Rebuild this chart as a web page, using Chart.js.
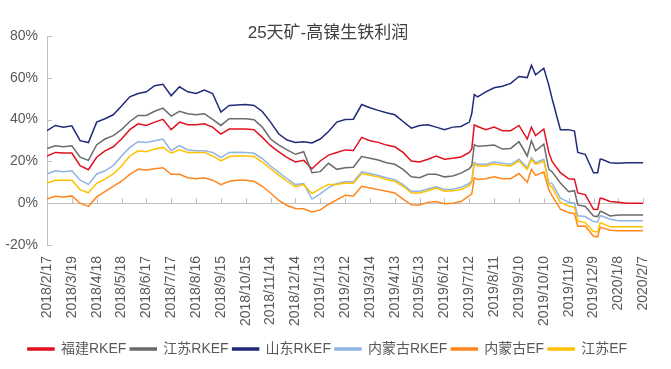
<!DOCTYPE html>
<html lang="zh">
<head>
    <meta charset="UTF-8">
    <title>25天矿-高镍生铁利润</title>
    <script src="https://cdn.jsdelivr.net/npm/chart.js"></script>
    <style>
        body { margin: 0; background: #fff; }
        #wrap { width: 671px; height: 369px; }
    </style>
</head>
<body>
    <div id="wrap"><canvas id="myChart" width="671" height="369"></canvas></div>

    <script>
        // дни от 2018/2/17
        const days = [0,10,20,30,40,50,60,70,80,90,100,110,120,130,140,150,160,170,180,190,200,210,220,230,240,250,260,270,280,290,300,310,320,330,340,350,360,370,380,390,400,410,420,430,440,450,460,470,480,490,500,510,513,516,520,530,540,550,560,570,580,585,590,600,606,610,620,630,637,641,650,660,665,668,670,680,690,700,710,720]

        const tickLabels = ['2018/2/17','2018/3/19','2018/4/18','2018/5/18','2018/6/17','2018/7/17','2018/8/16','2018/9/15','2018/10/15','2018/11/14','2018/12/14','2019/1/13','2019/2/12','2019/3/14','2019/4/13','2019/5/13','2019/6/12','2019/7/12','2019/8/11','2019/9/10','2019/10/10','2019/11/9','2019/12/9','2020/1/8','2020/2/7']

        const fujianRKEF = [22.5,24.3,24,24,18,16,22,25,27,30.7,35.2,38,37.2,38.8,40.1,35.2,38.8,37.5,37.5,38,36.4,33.1,35.5,35.5,35.5,35.2,31.5,27.5,24.6,21.8,19.7,20.5,16.5,20.2,23,24.3,25.5,25.2,31.5,29.9,29.1,27.8,27,24.3,20.2,19.7,21,22.6,21,21.5,22.1,24.3,26,37.5,36.7,35.2,36.4,34.7,34.7,37.2,30.7,36.4,32.3,35.5,24.3,20,14.6,11.7,11.5,4.9,4.1,-2.9,-3,2.4,2.4,0.8,0.4,0,0,0]
        const jiangsuRKEF = [26.2,27.5,27,27.5,22,20.5,28,30.7,32.3,35.2,39.1,42,42,44,45.5,41.7,44,42.8,42.3,42.8,40.1,37.2,40.4,40.4,40.4,39.9,36.4,30.7,27.8,25.5,23.4,24.6,14.6,15.1,19.1,16.2,17,17.2,22.3,21.5,20.7,19.4,18.6,16.2,12.6,12.2,13.8,13.8,12.6,13,14.4,16.5,18,28,27.2,27.5,27.8,25.9,26.2,29.4,22.6,29.9,25.1,28.3,16.2,15,9.7,5.5,6,-0.8,-1.6,-6.1,-6.4,-4,-4,-6.1,-5.6,-5.6,-5.6,-5.6]
        const shandongRKEF = [34.7,37.2,36.4,37,29.9,29,38.8,40.4,42.3,46.5,50.9,52.5,53.3,56.2,56.9,51.4,55.7,53.3,52.5,54.1,52.5,43.6,46.8,47,47.2,46.8,43.9,38.8,33.1,30.2,29.1,29.4,28.8,30.7,34.3,38.8,40,40.2,47.2,45.7,44.4,43.3,42.3,39.1,35.9,37.2,37.5,36.4,35.2,36.4,36.7,38.8,43,52,50.9,53.3,55.2,56,57.3,60.6,60.1,66,61.4,64.6,56.5,50,35.2,35.2,34.5,24.3,23.4,14.6,14.6,21,21,19.4,19.1,19.4,19.4,19.4]
        const neimengRKEF = [14,15.5,15,15.5,11,9,14,15.5,18,22.6,26.7,29.4,29.1,29.9,30.7,25.1,27.5,25.5,25.1,25.1,24.3,21.8,24.3,24.4,24.3,23.9,21.3,17.8,14.6,11.7,8.9,9.4,2,4.5,7.5,9.5,10.3,10.3,15,14.2,13.3,12.2,11.3,8.9,5.7,5.7,6.8,7.8,6.5,6.7,7.6,9.4,11,19.5,18.6,18.6,19.7,19.1,18.6,21,17,21.8,19.4,21,9.7,9.5,2.4,0.4,0,-6,-6.4,-8.8,-9,-6,-6.1,-7.7,-8.4,-8.4,-8.4,-8.4]
        const neimengEF = [2,3.3,3,3.5,0,-1.5,3,5.5,8,10.5,13.8,16.2,15.9,16.5,17,13.8,13.8,12.2,11.7,12.2,11,8.9,10.5,11,11,10.5,8.1,4.9,1.3,-1.1,-2.5,-2.7,-4.2,-3.2,-0.5,1.6,3.8,3.5,8.1,7.3,6.5,5.7,4.9,2,-0.8,-0.9,0.4,0.8,-0.3,0,0.8,3.6,4.5,12.2,11.3,11.7,12.6,11.7,11.7,14.2,10,16.2,13.3,14.9,6.5,3.5,-2.9,-4.5,-5,-11,-10.9,-15.8,-16.1,-11.5,-11.7,-12.9,-13.2,-13.2,-13.2,-13.2]
        const jiangsuEF = [9.7,11,11,11,6.5,5,9.5,11.5,14,17.8,22.6,25.1,24.6,25.9,26.7,23.9,25.5,24.3,24.3,24.3,22.6,20.2,22.3,22.6,22.6,22.3,19.7,16.5,13.3,10.5,7.9,8.9,4.6,7,9,9,9.7,9.6,14.2,13.4,12.6,11.3,10.5,8.1,4.9,4.9,6,7.2,5.7,5.9,6.6,8.4,10,19,17.8,17.8,18.9,18.1,17.8,20.2,16.2,21,18.6,20.2,8.9,7.6,0.4,-1.3,-2,-8.5,-9.3,-13.7,-13.7,-9.5,-9.6,-11.3,-11.3,-11.3,-11.3,-11.3]

        const fontFam = "'Liberation Sans', 'Noto Sans CJK SC', sans-serif"
        const gray = '#595959'
        const axisColor = '#bfbfbf'

        // последние серии рисуются поверх, как в Excel
        const mk = (label, vals, color, idx) => ({
            label: label,
            data: days.map((d, i) => ({ x: d, y: vals[i] })),
            borderColor: color,
            backgroundColor: color,
            borderWidth: 1.5,
            pointRadius: 0,
            tension: 0,
            order: -idx
        })

        // заголовок, ось на нуле и засечки
        const extras = {
            id: 'extras',
            beforeDatasetsDraw(chart) {
                const { ctx, chartArea, scales } = chart
                const y0 = scales.y.getPixelForValue(0)
                ctx.save()
                ctx.strokeStyle = axisColor
                ctx.lineWidth = 1
                ctx.beginPath()
                ctx.moveTo(chartArea.left, Math.round(y0) + 0.5)
                ctx.lineTo(chartArea.right, Math.round(y0) + 0.5)
                scales.x.ticks.forEach(t => {
                    const px = Math.round(scales.x.getPixelForValue(t.value)) + 0.5
                    ctx.moveTo(px, y0)
                    ctx.lineTo(px, y0 - 5)
                })
                scales.y.ticks.forEach(t => {
                    const py = Math.round(scales.y.getPixelForValue(t.value)) + 0.5
                    ctx.moveTo(chartArea.left, py)
                    ctx.lineTo(chartArea.left + 5, py)
                })
                ctx.stroke()
                ctx.restore()
            },
            afterDraw(chart) {
                const ctx = chart.ctx
                ctx.save()
                ctx.font = "17px " + fontFam
                ctx.fillStyle = '#404040'
                ctx.textAlign = 'center'
                ctx.textBaseline = 'middle'
                ctx.fillText('25天矿-高镍生铁利润', 328, 33)
                ctx.restore()
            }
        }

        const ctx = document.getElementById('myChart').getContext('2d')
        const myChart = new Chart(ctx, {
            type: 'line',
            data: {
                datasets: [
                    mk('福建RKEF', fujianRKEF, '#e2111f', 0),
                    mk('江苏RKEF', jiangsuRKEF, '#6b6b6b', 1),
                    mk('山东RKEF', shandongRKEF, '#1f2a78', 2),
                    mk('内蒙古RKEF', neimengRKEF, '#8db4e2', 3),
                    mk('内蒙古EF', neimengEF, '#ff861c', 4),
                    mk('江苏EF', jiangsuEF, '#ffc000', 5)
                ]
            },
            options: {
                responsive: false,
                animation: false,
                layout: { padding: { top: 36, right: 16, left: 0, bottom: 3 } },
                plugins: {
                    title: { display: false },
                    tooltip: { enabled: false },
                    legend: {
                        position: 'bottom',
                        labels: {
                            boxWidth: 26,
                            boxHeight: 2,
                            padding: 4,
                            color: gray,
                            font: { size: 14, family: fontFam },
                            sort: (a, b) => a.datasetIndex - b.datasetIndex
                        }
                    }
                },
                scales: {
                    x: {
                        type: 'linear',
                        min: 0,
                        max: 720,
                        grid: { display: false, drawTicks: false },
                        border: { display: false },
                        ticks: {
                            stepSize: 30,
                            autoSkip: false,
                            maxRotation: 90,
                            minRotation: 90,
                            padding: 11,
                            color: gray,
                            font: { size: 14, family: fontFam },
                            callback: v => tickLabels[Math.round(v / 30)]
                        },
                        afterFit: s => { s.height = 93 }
                    },
                    y: {
                        min: -20,
                        max: 80,
                        grid: { display: false, drawTicks: false },
                        border: { display: true, color: axisColor, width: 1 },
                        ticks: {
                            stepSize: 20,
                            padding: 9,
                            color: gray,
                            font: { size: 14, family: fontFam },
                            callback: v => v + '%'
                        },
                        afterFit: s => { s.width = 47 }
                    }
                }
            },
            plugins: [extras]
        })
    </script>
</body>
</html>
